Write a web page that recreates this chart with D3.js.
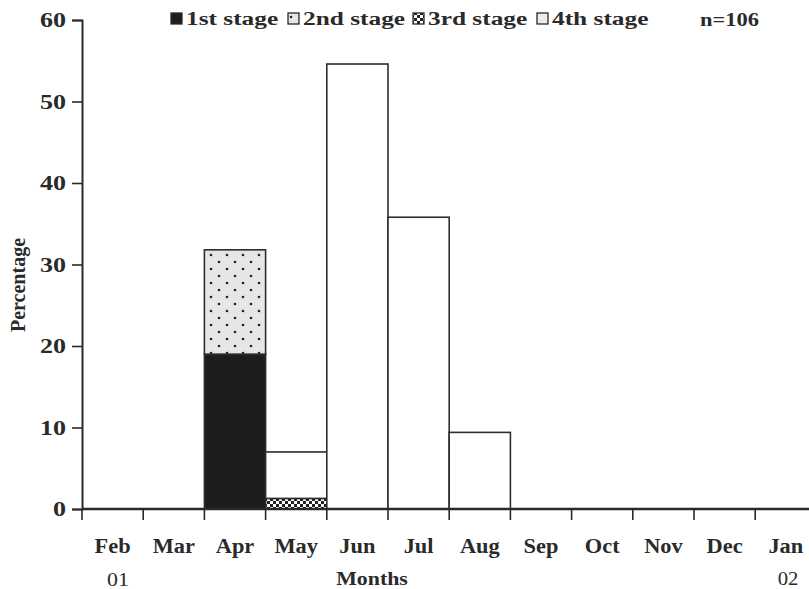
<!DOCTYPE html>
<html>
<head>
<meta charset="utf-8">
<script src="https://cdn.jsdelivr.net/npm/d3@7"></script>
<style>
  html, body { margin: 0; padding: 0; background: #fff; }
  svg { display: block; }
  text { font-family: "Liberation Serif", "Times New Roman", serif; fill: #2a2a2a; }
</style>
</head>
<body>
<svg id="chart" width="809" height="589"></svg>
<script>
// Months on the x axis (Feb 2001 – Jan 2002)
const months = ["Feb", "Mar", "Apr", "May", "Jun", "Jul", "Aug", "Sep", "Oct", "Nov", "Dec", "Jan"];
// Percentage of specimens by developmental stage per month
const stage1 = [0, 0, 19.0, 0, 0, 0, 0, 0, 0, 0, 0, 0];
const stage2 = [0, 0, 12.8, 0, 0, 0, 0, 0, 0, 0, 0, 0];
const stage3 = [0, 0, 0, 1.3, 0, 0, 0, 0, 0, 0, 0, 0];
const stage4 = [0, 0, 0, 5.7, 54.6, 35.8, 9.4, 0, 0, 0, 0, 0];
const stageNames = ["1st stage", "2nd stage", "3rd stage", "4th stage"];
const yTicks = [0, 10, 20, 30, 40, 50, 60];
const sampleLabel = "n=106";

const svg = d3.select("#chart");

// patterns for the stage fills
const defs = svg.append("defs");
const p2 = defs.append("pattern").attr("id", "pat2").attr("patternUnits", "userSpaceOnUse")
  .attr("width", 16).attr("height", 14);
p2.append("rect").attr("width", 16).attr("height", 14).attr("fill", "#e6e6e6");
p2.append("circle").attr("cx", 3).attr("cy", 3).attr("r", 1.3).attr("fill", "#222");
p2.append("circle").attr("cx", 11).attr("cy", 10).attr("r", 1.3).attr("fill", "#222");
const p3 = defs.append("pattern").attr("id", "pat3").attr("patternUnits", "userSpaceOnUse")
  .attr("width", 6).attr("height", 6);
p3.append("rect").attr("width", 6).attr("height", 6).attr("fill", "#fff");
p3.append("rect").attr("width", 3).attr("height", 3).attr("fill", "#222");
p3.append("rect").attr("x", 3).attr("y", 3).attr("width", 3).attr("height", 3).attr("fill", "#222");

const fills = ["#1c1c1c", "url(#pat2)", "url(#pat3)", "#ffffff"];

const x = d3.scaleBand().domain(months).range([82, 816.4]).padding(0);
const y = d3.scaleLinear().domain([0, 60]).range([509, 20]);

// stacked data
const table = months.map((m, i) => ({ month: m, s1: stage1[i], s2: stage2[i], s3: stage3[i], s4: stage4[i] }));
const stack = d3.stack().keys(["s1", "s2", "s3", "s4"])(table);

const bars = svg.append("g");
stack.forEach((layer, li) => {
  bars.selectAll(null)
    .data(layer.filter(d => d[1] - d[0] > 0))
    .join("rect")
    .attr("x", d => x(d.data.month))
    .attr("width", x.bandwidth())
    .attr("y", d => y(d[1]))
    .attr("height", d => y(d[0]) - y(d[1]))
    .attr("fill", fills[li])
    .attr("stroke", "#2d2d2d")
    .attr("stroke-width", 1.6);
});

// y axis
const YS = 1.3;
const yAxis = svg.append("g").attr("transform", "translate(82,0)")
  .call(d3.axisLeft(y).tickValues(yTicks).tickSize(10).tickPadding(6));
yAxis.select(".domain").attr("stroke", "#2a2a2a").attr("stroke-width", 2);
yAxis.selectAll(".tick line").attr("stroke", "#2a2a2a").attr("stroke-width", 1.6);
yAxis.selectAll(".tick text")
  .attr("font-size", 20).attr("font-weight", "bold")
  .attr("font-family", "'Liberation Serif', serif").attr("fill", "#2a2a2a")
  .attr("x", -16 / YS).attr("dy", "0.34em").attr("transform", `scale(${YS},1)`);

// x axis
svg.append("line").attr("x1", 82).attr("x2", 809).attr("y1", 509).attr("y2", 509)
  .attr("stroke", "#2a2a2a").attr("stroke-width", 2.4);
svg.append("g").selectAll("line").data(months).join("line")
  .attr("x1", d => x(d)).attr("x2", d => x(d))
  .attr("y1", 509).attr("y2", 520)
  .attr("stroke", "#2a2a2a").attr("stroke-width", 1.6);
svg.append("g").selectAll("text").data(months).join("text")
  .attr("transform", d => `translate(${x(d) + x.bandwidth() / 2},553) scale(1.12,1)`)
  .attr("text-anchor", "middle").attr("font-size", 20).attr("font-weight", "bold")
  .text(d => d);

// axis titles
svg.append("text")
  .attr("transform", "translate(25,285) rotate(-90)")
  .attr("text-anchor", "middle").attr("font-size", 20).attr("font-weight", "bold")
  .text("Percentage");
svg.append("text")
  .attr("transform", `translate(372,585) scale(1.15,1)`)
  .attr("text-anchor", "middle").attr("font-size", 19).attr("font-weight", "bold")
  .text("Months");
svg.append("text")
  .attr("transform", `translate(118,586) scale(1.15,1)`)
  .attr("text-anchor", "middle").attr("font-size", 19)
  .text("01");
svg.append("text")
  .attr("transform", `translate(788,585) scale(1.15,1)`)
  .attr("text-anchor", "middle").attr("font-size", 18)
  .text("02");

// legend
const legendX = [171, 288, 413, 537];
const legend = svg.append("g");
stageNames.forEach((name, i) => {
  legend.append("rect")
    .attr("x", legendX[i]).attr("y", 13).attr("width", 11).attr("height", 11)
    .attr("fill", fills[i] === "#ffffff" ? "#ececec" : fills[i])
    .attr("stroke", "#2a2a2a").attr("stroke-width", 1.3);
  legend.append("text")
    .attr("transform", `translate(${legendX[i] + 15},25) scale(1.3,1)`)
    .attr("font-size", 19.5).attr("font-weight", "bold")
    .text(name);
});
svg.append("text")
  .attr("transform", `translate(700,26) scale(1.25,1)`)
  .attr("font-size", 18).attr("font-weight", "bold")
  .text(sampleLabel);
</script>
</body>
</html>
